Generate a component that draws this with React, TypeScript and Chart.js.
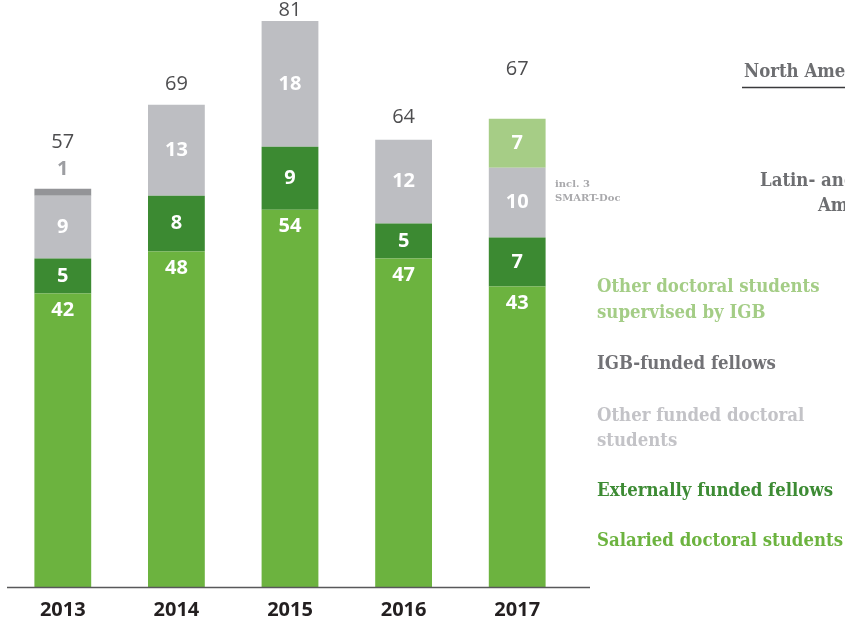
import React, { useEffect, useRef } from "react";
import { Chart, registerables } from "chart.js";

Chart.register(...registerables);

// ---- data ----
const years = ["2013", "2014", "2015", "2016", "2017"];
const salaried = [42, 48, 54, 47, 43];
const externallyFunded = [5, 8, 9, 5, 7];
const otherFunded = [9, 13, 18, 12, 10];
const igbFunded = [1, null, null, null, null];
const otherSupervised = [null, null, null, null, 7];
const totals = [57, 69, 81, 64, 67];

const legendItems = [
  { lines: ["Other doctoral students", "supervised by IGB"], color: "#a4cd86" },
  { lines: ["IGB-funded fellows"], color: "#727276" },
  { lines: ["Other funded doctoral", "students"], color: "#c3c3c7" },
  { lines: ["Externally funded fellows"], color: "#3d8b34" },
  { lines: ["Salaried doctoral students"], color: "#6cb33f" },
];
const noteLines = ["incl. 3", "SMART-Doc"];
const mapLabelNorth = "North America";
const mapLabelLatin = ["Latin- and South", "America"];

// ---- styles ----
const C_SAL = "#6cb33f";
const C_EXT = "#3c8a32";
const C_OTH = "#bdbec2";
const C_IGB = "#939497";
const C_SUP = "#a6cd86";
const totalLift = [46, 21, 11, 22, 50];
const SERIF = "'DejaVu Serif', serif";
const SANS = "'Open Sans', 'Noto Sans', sans-serif";

const labelsPlugin = {
  id: "segLabels",
  afterDatasetsDraw(chart: any) {
    const ctx = chart.ctx;
    const yScale = chart.scales.y;
    ctx.save();
    ctx.textAlign = "center";
    ctx.textBaseline = "middle";
    chart.data.datasets.forEach((ds: any, di: number) => {
      const meta = chart.getDatasetMeta(di);
      meta.data.forEach((bar: any, i: number) => {
        const v = ds.data[i];
        if (v == null) return;
        const p = bar.getProps(["x", "y", "base"], true);
        let ly: number;
        ctx.font = `bold 20px ${SANS}`;
        if (di === 3) {
          ctx.fillStyle = "#9d9ea2";
          ly = p.y - 19;
        } else {
          ctx.fillStyle = "#ffffff";
          ly = di === 0 ? p.y + 17 : (p.y + p.base) / 2;
        }
        ctx.fillText(String(v), p.x, ly);
      });
    });
    // totals
    const meta0 = chart.getDatasetMeta(0);
    ctx.font = `20px ${SANS}`;
    ctx.fillStyle = "#4d4d4f";
    totals.forEach((t, i) => {
      const x = meta0.data[i].x;
      const y = yScale.getPixelForValue(t) - totalLift[i];
      ctx.fillText(String(t), x, y);
    });
    // axis line
    const ca = chart.chartArea;
    ctx.strokeStyle = "#58585a";
    ctx.lineWidth = 1.5;
    ctx.beginPath();
    ctx.moveTo(7, ca.bottom + 0.5);
    ctx.lineTo(590, ca.bottom + 0.5);
    ctx.stroke();
    ctx.restore();
  },
  afterDraw(chart: any) {
    const ctx = chart.ctx;
    ctx.save();
    ctx.textAlign = "left";
    ctx.textBaseline = "middle";
    // legend (horizontally condensed slab serif)
    ctx.font = `bold 19px ${SERIF}`;
    const w = ctx.measureText("Salaried doctoral students").width;
    const sx = Math.min(1, 246 / w);
    const drawText = (txt: string, x: number, y: number) => {
      ctx.save();
      ctx.translate(x, y);
      ctx.scale(sx, 1);
      ctx.fillText(txt, 0, 0);
      ctx.restore();
    };
    const legendY = [[287, 313], [364], [416, 441], [491], [541]];
    legendItems.forEach((it, k) => {
      ctx.fillStyle = it.color;
      it.lines.forEach((ln, j) => drawText(ln, 597, legendY[k][j]));
    });
    // map labels (cut off at the right edge)
    ctx.fillStyle = "#6d6e71";
    drawText(mapLabelNorth, 744, 72);
    ctx.strokeStyle = "#3a3a3c";
    ctx.lineWidth = 1.5;
    ctx.beginPath();
    ctx.moveTo(742, 87.5);
    ctx.lineTo(845, 87.5);
    ctx.stroke();
    drawText(mapLabelLatin[0], 760, 181);
    drawText(mapLabelLatin[1], 818, 206);
    // note
    ctx.font = `bold 10px ${SERIF}`;
    ctx.fillStyle = "#a9a9ac";
    ctx.fillText(noteLines[0], 555, 184);
    ctx.fillText(noteLines[1], 555, 198);
    ctx.restore();
  },
};

export default function App() {
  const ref = useRef<HTMLCanvasElement | null>(null);
  useEffect(() => {
    if (!ref.current) return;
    const chart = new Chart(ref.current, {
      type: "bar",
      data: {
        labels: years,
        datasets: [
          { label: "Salaried doctoral students", data: salaried, backgroundColor: C_SAL },
          { label: "Externally funded fellows", data: externallyFunded, backgroundColor: C_EXT },
          { label: "Other funded doctoral students", data: otherFunded, backgroundColor: C_OTH },
          { label: "IGB-funded fellows", data: igbFunded as any, backgroundColor: C_IGB },
          { label: "Other doctoral students supervised by IGB", data: otherSupervised as any, backgroundColor: C_SUP },
        ],
      },
      options: {
        responsive: false,
        animation: false,
        layout: { padding: { left: 6, right: 271, top: 0, bottom: 0 } },
        datasets: { bar: { categoryPercentage: 1, barPercentage: 0.5 } },
        plugins: { legend: { display: false }, tooltip: { enabled: false } },
        scales: {
          x: {
            stacked: true,
            grid: { display: false, drawTicks: false },
            border: { display: false },
            ticks: { font: { family: SANS, size: 20, weight: "bold" }, color: "#231f20", padding: 11 },
            afterFit: (scale: any) => { scale.height = 35; },
          },
          y: { stacked: true, display: false, min: 0, max: 84 },
        },
      },
      plugins: [labelsPlugin],
    });
    return () => chart.destroy();
  }, []);
  return (
    <div style={{ position: "fixed", left: 0, top: 0, width: 845, height: 622, background: "#fff" }}>
      <canvas ref={ref} width={845} height={622} style={{ display: "block" }} />
    </div>
  );
}
